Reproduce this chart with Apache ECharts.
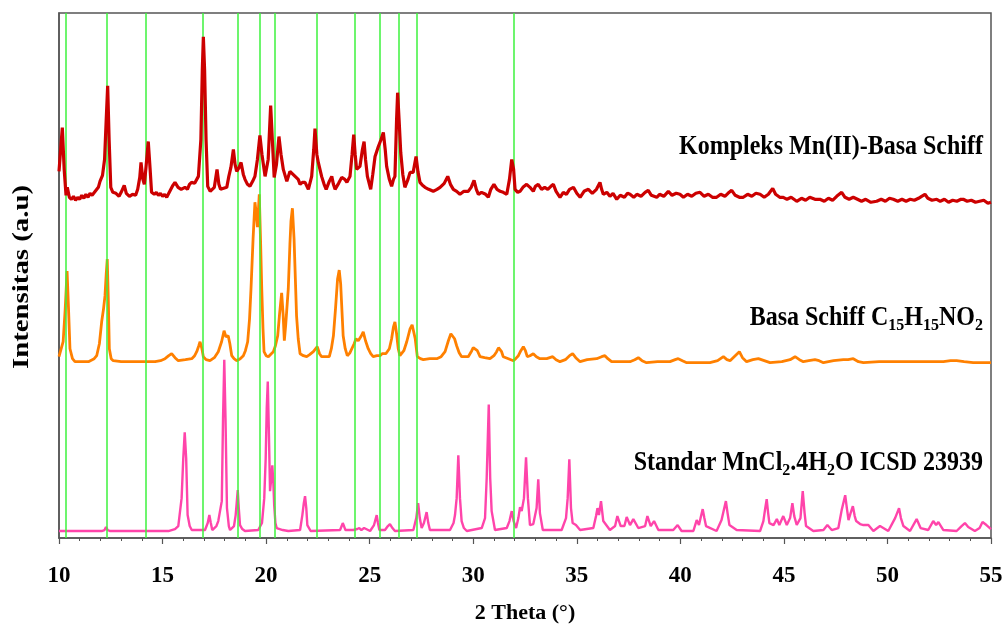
<!DOCTYPE html>
<html>
<head>
<meta charset="utf-8">
<script src="https://cdn.jsdelivr.net/npm/echarts@6/dist/echarts.min.js"></script>
<style>html,body{margin:0;padding:0;background:#fff}#c{width:1006px;height:629px}</style>
</head>
<body>
<div id="c"></div>
<script>
// x tick labels
const xTicks = [10, 15, 20, 25, 30, 35, 40, 45, 50, 55];
// reference (green) lines, 2θ
const refLines = [10.35, 12.3, 14.2, 16.95, 18.65, 19.7, 20.4, 22.45, 24.3, 25.5, 26.4, 27.25, 31.95];
const labels = ['Kompleks Mn(II)-Basa Schiff', 'Basa Schiff C15H15NO2', 'Standar MnCl2.4H2O ICSD 23939'];

// Kompleks Mn(II)-Basa Schiff (offset intensity, a.u.)
const kompleks = [
[10.0,368],[10.08,390],[10.16,412],[10.25,370],[10.34,344],[10.4,352],[10.5,342],[10.6,340],[10.7,343],[10.8,339],[10.9,342],[11.0,340],[11.1,344],[11.2,341],[11.3,345],[11.4,342],[11.5,346],[11.6,344],[11.75,348],[11.9,352],[11.98,358],[12.1,364],[12.2,380],[12.28,420],[12.35,454],[12.42,400],[12.5,352],[12.6,347],[12.75,346],[12.9,343],[13.0,347],[13.15,354],[13.25,346],[13.4,343],[13.55,345],[13.7,344],[13.8,350],[13.9,362],[13.96,377],[14.05,360],[14.12,355],[14.2,372],[14.31,398],[14.4,370],[14.47,347],[14.6,345],[14.7,347],[14.8,344],[14.9,346],[15.0,343],[15.1,345],[15.2,342],[15.35,348],[15.5,354],[15.6,357],[15.75,352],[15.9,350],[16.08,352],[16.2,350],[16.3,355],[16.4,357],[16.55,356],[16.73,363],[16.85,400],[16.92,470],[16.97,503],[17.03,470],[17.1,400],[17.18,353],[17.3,348],[17.37,348],[17.5,352],[17.63,370],[17.72,355],[17.8,350],[17.95,351],[18.1,352],[18.2,363],[18.3,372],[18.42,390],[18.5,375],[18.58,368],[18.7,372],[18.79,377],[18.9,365],[18.98,360],[19.1,355],[19.22,353],[19.35,358],[19.46,363],[19.58,380],[19.7,404],[19.8,385],[19.95,363],[20.1,380],[20.22,434],[20.3,400],[20.39,362],[20.5,375],[20.62,403],[20.72,385],[20.83,370],[21.0,358],[21.15,368],[21.3,365],[21.4,363],[21.55,360],[21.64,355],[21.75,357],[21.88,357],[22.04,350],[22.2,363],[22.3,390],[22.36,411],[22.45,385],[22.52,377],[22.68,363],[22.8,355],[22.9,350],[23.05,358],[23.17,363],[23.25,355],[23.33,350],[23.5,356],[23.65,362],[23.8,360],[23.9,357],[24.05,363],[24.15,385],[24.23,405],[24.3,385],[24.37,370],[24.53,373],[24.65,390],[24.73,398],[24.8,380],[24.89,363],[25.05,350],[25.15,365],[25.26,383],[25.42,393],[25.55,400],[25.66,407],[25.75,390],[25.82,373],[25.95,360],[26.06,353],[26.15,360],[26.22,363],[26.3,420],[26.35,447],[26.42,420],[26.5,387],[26.6,365],[26.7,352],[26.85,360],[26.95,367],[27.1,367],[27.24,383],[27.33,368],[27.43,357],[27.55,354],[27.67,352],[27.85,350],[28.07,348],[28.25,350],[28.4,352],[28.6,356],[28.77,363],[28.9,355],[29.04,350],[29.2,348],[29.36,345],[29.55,348],[29.76,348],[29.9,352],[30.04,359],[30.15,350],[30.25,345],[30.4,347],[30.49,348],[30.6,345],[30.73,342],[30.85,350],[31.0,355],[31.15,350],[31.3,348],[31.45,347],[31.62,345],[31.75,360],[31.86,380],[31.95,370],[32.02,350],[32.15,347],[32.26,348],[32.4,352],[32.58,355],[32.74,352],[32.9,348],[33.0,353],[33.14,355],[33.3,350],[33.45,352],[33.6,350],[33.75,353],[33.87,355],[34.0,348],[34.19,342],[34.35,347],[34.5,345],[34.65,350],[34.84,352],[35.0,346],[35.16,342],[35.35,348],[35.56,350],[35.75,346],[35.95,350],[36.12,357],[36.2,350],[36.28,345],[36.45,347],[36.6,343],[36.75,346],[36.93,340],[37.1,344],[37.3,342],[37.45,346],[37.57,345],[37.75,342],[37.9,345],[38.1,343],[38.3,347],[38.45,349],[38.6,344],[38.86,342],[39.0,345],[39.2,343],[39.42,348],[39.6,344],[39.8,346],[39.98,345],[40.15,342],[40.35,345],[40.55,343],[40.75,346],[40.95,347],[41.15,343],[41.35,345],[41.55,342],[41.75,342],[41.95,345],[42.15,343],[42.3,346],[42.48,349],[42.65,344],[42.85,342],[43.04,342],[43.25,345],[43.45,343],[43.65,346],[43.85,345],[44.05,342],[44.25,345],[44.46,351],[44.6,345],[44.8,342],[44.97,342],[45.15,340],[45.35,342],[45.62,338],[45.85,341],[46.05,339],[46.25,342],[46.5,340],[46.74,340],[46.95,338],[47.15,341],[47.35,339],[47.55,343],[47.79,347],[47.95,342],[48.15,340],[48.35,342],[48.55,340],[48.75,338],[48.95,340],[49.2,337],[49.48,338],[49.7,340],[49.9,338],[50.1,341],[50.28,340],[50.5,338],[50.7,340],[50.9,338],[51.1,340],[51.3,339],[51.5,341],[51.65,343],[51.81,345],[51.95,341],[52.15,339],[52.38,340],[52.55,338],[52.75,340],[52.95,337],[53.15,339],[53.35,338],[53.55,340],[53.66,340],[53.85,338],[54.05,339],[54.25,337],[54.45,338],[54.65,339],[54.85,336],[55.0,337]
];

// Basa Schiff C15H15NO2
const basaSchiff = [
[10.0,182],[10.2,197],[10.3,230],[10.39,268],[10.46,230],[10.53,190],[10.65,180],[10.77,177],[11.0,177],[11.42,177],[11.7,180],[11.82,183],[11.95,195],[12.06,217],[12.15,230],[12.22,243],[12.28,265],[12.33,280],[12.38,240],[12.43,190],[12.52,180],[12.62,178],[13.0,177],[13.5,177],[13.83,177],[14.2,177],[14.64,177],[14.9,178],[15.12,180],[15.3,183],[15.44,185],[15.6,181],[15.76,178],[16.1,179],[16.41,180],[16.55,183],[16.65,187],[16.75,193],[16.81,197],[16.9,190],[16.97,182],[17.1,179],[17.29,178],[17.5,181],[17.69,187],[17.85,197],[17.97,208],[18.06,202],[18.17,203],[18.25,195],[18.34,183],[18.45,180],[18.58,178],[18.75,180],[18.9,183],[19.0,188],[19.11,197],[19.2,220],[19.27,250],[19.37,300],[19.46,337],[19.53,325],[19.58,312],[19.63,330],[19.67,345],[19.73,300],[19.79,250],[19.85,210],[19.9,187],[20.0,183],[20.11,182],[20.25,185],[20.35,187],[20.45,193],[20.56,203],[20.65,225],[20.75,246],[20.82,225],[20.88,198],[20.95,215],[21.07,250],[21.15,295],[21.2,318],[21.27,331],[21.35,300],[21.47,223],[21.55,200],[21.64,185],[21.8,183],[21.96,182],[22.1,184],[22.28,187],[22.47,192],[22.58,185],[22.68,182],[22.85,182],[23.05,182],[23.15,190],[23.25,203],[23.35,230],[23.45,260],[23.53,269],[23.6,255],[23.72,203],[23.82,190],[23.92,183],[24.05,186],[24.13,188],[24.25,195],[24.34,200],[24.45,198],[24.53,198],[24.6,203],[24.69,207],[24.8,198],[24.93,190],[25.05,185],[25.17,182],[25.35,183],[25.5,183],[25.6,185],[25.69,187],[25.78,185],[25.85,183],[25.95,190],[26.06,200],[26.15,212],[26.22,217],[26.3,205],[26.38,190],[26.46,183],[26.55,182],[26.65,188],[26.79,197],[26.95,210],[27.05,214],[27.11,215],[27.2,200],[27.3,182],[27.45,180],[27.59,179],[27.9,180],[28.24,180],[28.45,182],[28.64,187],[28.8,198],[28.92,205],[28.99,206],[29.1,200],[29.2,193],[29.32,186],[29.44,182],[29.6,182],[29.76,182],[29.93,188],[30.0,191],[30.09,193],[30.2,188],[30.33,182],[30.55,181],[30.81,180],[31.0,183],[31.13,187],[31.22,191],[31.29,193],[31.37,187],[31.45,182],[31.7,180],[31.94,178],[32.05,180],[32.18,183],[32.3,188],[32.42,192],[32.52,188],[32.61,182],[32.74,183],[32.9,185],[33.05,182],[33.22,180],[33.31,178],[33.55,180],[33.84,182],[34.0,179],[34.19,177],[34.45,179],[34.65,183],[34.8,185],[34.95,181],[35.16,177],[35.5,179],[35.96,180],[36.2,182],[36.36,183],[36.5,180],[36.68,177],[37.1,177],[37.57,177],[37.8,179],[37.97,181],[38.15,178],[38.37,176],[38.9,177],[39.5,177],[39.75,179],[39.9,180],[40.1,178],[40.31,176],[40.9,176],[41.43,176],[41.8,178],[42.08,182],[42.25,179],[42.4,178],[42.65,183],[42.85,187],[43.0,181],[43.2,177],[43.5,179],[43.77,180],[44.05,178],[44.33,176],[44.9,177],[45.3,179],[45.54,182],[45.75,179],[45.94,177],[46.2,178],[46.5,179],[46.7,178],[46.91,176],[47.4,178],[47.87,179],[48.1,179],[48.35,180],[48.6,177],[48.84,176],[49.6,177],[50.45,177],[51.2,177],[52.06,177],[52.7,177],[53.05,178],[53.34,178],[53.7,177],[54.14,176],[54.5,176],[55.0,176]
];

// Standar MnCl2.4H2O ICSD 23939
const standar = [
[10.0,7],[11.0,7],[12.06,7],[12.2,8],[12.27,11],[12.35,8],[12.45,7],[15.28,7],[15.6,9],[15.76,12],[15.92,40],[16.0,80],[16.07,106],[16.14,80],[16.21,23],[16.31,12],[16.41,8],[17.05,8],[17.18,15],[17.26,23],[17.33,15],[17.4,8],[17.6,12],[17.69,17],[17.8,30],[17.86,37],[17.92,120],[17.98,179],[18.04,120],[18.11,30],[18.2,12],[18.26,8],[18.45,12],[18.53,23],[18.58,35],[18.63,48],[18.68,30],[18.74,13],[18.85,9],[18.98,7],[19.62,8],[19.8,15],[19.91,40],[19.98,80],[20.03,130],[20.08,157],[20.13,110],[20.19,47],[20.25,60],[20.3,73],[20.35,55],[20.39,33],[20.45,15],[20.51,10],[20.8,8],[21.07,7],[21.64,8],[21.75,23],[21.82,35],[21.88,42],[21.94,30],[21.99,13],[22.15,7],[23.57,8],[23.65,12],[23.7,15],[23.76,12],[23.83,8],[24.21,8],[24.4,9],[24.5,10],[24.6,8],[24.73,10],[25.02,7],[25.21,13],[25.3,20],[25.34,23],[25.4,15],[25.47,8],[25.74,8],[25.88,12],[25.98,14],[26.1,10],[26.22,7],[27.11,8],[27.25,20],[27.34,35],[27.42,20],[27.51,10],[27.62,15],[27.75,26],[27.83,15],[27.91,8],[28.88,8],[29.05,15],[29.12,23],[29.2,40],[29.28,83],[29.36,40],[29.44,17],[29.55,10],[29.69,7],[30.41,10],[30.57,20],[30.65,60],[30.75,134],[30.82,60],[30.89,27],[31.05,8],[31.62,10],[31.75,17],[31.86,27],[31.95,17],[32.07,10],[32.18,20],[32.26,31],[32.34,27],[32.45,40],[32.55,81],[32.64,40],[32.74,13],[32.9,14],[32.98,14],[33.06,30],[33.14,59],[33.22,25],[33.36,8],[34.27,8],[34.48,20],[34.56,40],[34.64,79],[34.72,30],[34.8,15],[34.96,13],[35.16,8],[35.8,10],[35.93,22],[36.0,30],[36.07,23],[36.17,37],[36.28,17],[36.6,8],[36.85,12],[36.96,22],[37.12,12],[37.3,12],[37.41,21],[37.57,13],[37.73,19],[37.97,10],[38.3,12],[38.41,22],[38.57,12],[38.73,17],[38.94,8],[39.66,8],[39.87,13],[40.06,7],[40.63,7],[40.79,18],[40.9,13],[41.0,22],[41.08,29],[41.16,20],[41.24,12],[41.75,7],[41.99,18],[42.1,28],[42.2,37],[42.28,25],[42.37,13],[42.72,8],[43.85,7],[44.01,17],[44.1,30],[44.17,39],[44.24,25],[44.3,15],[44.5,13],[44.66,19],[44.78,13],[44.97,22],[45.14,13],[45.3,20],[45.41,35],[45.5,22],[45.62,13],[45.8,20],[45.91,47],[46.0,25],[46.07,12],[46.42,7],[46.91,8],[47.1,13],[47.31,8],[47.63,10],[47.79,28],[47.96,43],[48.04,30],[48.12,18],[48.22,25],[48.33,32],[48.42,22],[48.49,17],[48.68,14],[48.84,13],[49.08,13],[49.32,7],[49.64,12],[50.04,7],[50.37,20],[50.56,30],[50.65,20],[50.77,12],[51.09,7],[51.41,19],[51.6,10],[51.97,8],[52.21,17],[52.35,13],[52.46,16],[52.7,8],[53.34,7],[53.58,12],[53.74,15],[53.9,11],[54.22,7],[54.45,10],[54.59,16],[54.78,13],[55.0,9]
];

const FONT = '"Liberation Serif", "Times New Roman", serif';
const chart = echarts.init(document.getElementById('c'), null, {renderer: 'canvas'});
const richMain = {fontFamily: FONT, fontWeight: 'bold', fontSize: 24, lineHeight: 30, fill: '#000', verticalAlign: 'middle'};
const richSub = {fontFamily: FONT, fontWeight: 'bold', fontSize: 16, lineHeight: 16, fill: '#000', verticalAlign: 'bottom'};

function label(text, x, y) {
  return {type: 'text', x: x, y: y, scaleY: 1.1, z: 10,
    style: {text: text, rich: {a: richMain, s: richSub}, align: 'right', verticalAlign: 'middle'}};
}

chart.setOption({
  animation: false,
  backgroundColor: '#fff',
  grid: {left: 59, right: 15, top: 13, bottom: 89, show: true, borderColor: '#555', borderWidth: 1.5, backgroundColor: 'transparent'},
  xAxis: {
    type: 'value', min: xTicks[0], max: xTicks[xTicks.length - 1], interval: 5,
    name: '2 Theta (°)', nameLocation: 'middle', nameGap: 64,
    nameTextStyle: {fontFamily: FONT, fontWeight: 'bold', fontSize: 22, color: '#000'},
    axisLine: {show: true, lineStyle: {color: '#555', width: 1.5}},
    axisTick: {show: true, inside: false, length: 6, lineStyle: {color: '#555', width: 1.2}},
    minorTick: {show: true, splitNumber: 5, length: 3, lineStyle: {color: '#555', width: 1}},
    axisLabel: {fontFamily: FONT, fontWeight: 'bold', fontSize: 23, color: '#000', margin: 27},
    splitLine: {show: false}
  },
  yAxis: {
    type: 'value', min: 0, max: 527,
    axisLine: {show: true, lineStyle: {color: '#555', width: 1.5}},
    axisTick: {show: false}, axisLabel: {show: false}, splitLine: {show: false}
  },
  series: [
    {
      type: 'line', data: [], z: 1, silent: true,
      markLine: {
        silent: true, symbol: ['none', 'none'], label: {show: false},
        lineStyle: {color: '#3DF23D', width: 1.5, type: 'solid'},
        data: refLines.map(v => ({xAxis: v}))
      }
    },
    {name: labels[2], type: 'line', data: standar, showSymbol: false, z: 3,
     lineStyle: {color: '#FF44AA', width: 2.4}, itemStyle: {color: '#FF44AA'}},
    {name: labels[1], type: 'line', data: basaSchiff, showSymbol: false, z: 4,
     lineStyle: {color: '#FF8000', width: 2.8}, itemStyle: {color: '#FF8000'}},
    {name: labels[0], type: 'line', data: kompleks, showSymbol: false, z: 5,
     lineStyle: {color: '#CC0000', width: 3.2}, itemStyle: {color: '#CC0000'}}
  ],
  graphic: [
    label('{a|Kompleks Mn(II)-Basa Schiff}', 983, 147),
    label('{a|Basa Schiff C}{s|15}{a|H}{s|15}{a|NO}{s|2}', 983, 318),
    label('{a|Standar MnCl}{s|2}{a|.4H}{s|2}{a|O ICSD 23939}', 983, 463),
    {type: 'text', x: 22, y: 277, rotation: Math.PI / 2, scaleX: 1.2, z: 10,
     style: {text: 'Intensitas (a.u)', font: 'bold 24px ' + FONT, fill: '#000', align: 'center', verticalAlign: 'middle'}}
  ]
});
</script>
</body>
</html>
